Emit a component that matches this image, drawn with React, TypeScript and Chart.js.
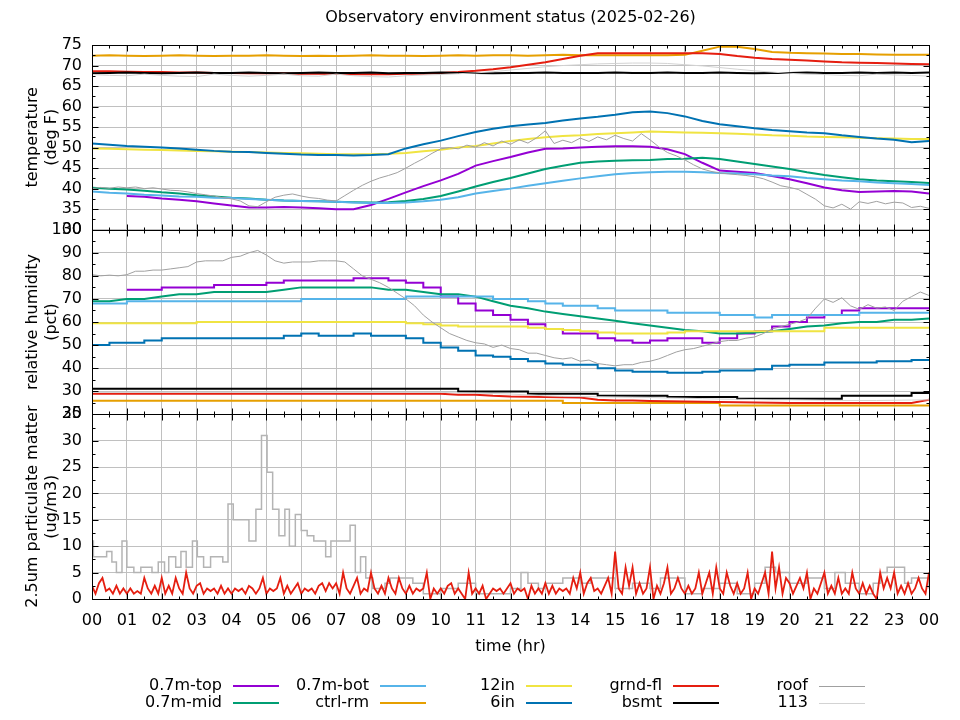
import React, { useEffect, useRef } from "react";
import { Chart, registerables } from "chart.js";

Chart.register(...registerables);

const FONT = "'DejaVu Sans', 'Liberation Sans', sans-serif";
const TITLE = "Observatory environment status (2025-02-26)";

// ---------- time grids (hours) ----------
const HALF_HOURS = [
  0, 0.5, 1, 1.5, 2, 2.5, 3, 3.5, 4, 4.5, 5, 5.5, 6, 6.5, 7, 7.5, 8, 8.5, 9, 9.5,
  10, 10.5, 11, 11.5, 12, 12.5, 13, 13.5, 14, 14.5, 15, 15.5, 16, 16.5, 17, 17.5,
  18, 18.5, 19, 19.5, 20, 20.5, 21, 21.5, 22, 22.5, 23, 23.5, 24,
];

const QUARTER_HOURS = [
  0, 0.25, 0.5, 0.75, 1, 1.25, 1.5, 1.75, 2, 2.25, 2.5, 2.75, 3, 3.25, 3.5, 3.75,
  4, 4.25, 4.5, 4.75, 5, 5.25, 5.5, 5.75, 6, 6.25, 6.5, 6.75, 7, 7.25, 7.5, 7.75,
  8, 8.25, 8.5, 8.75, 9, 9.25, 9.5, 9.75, 10, 10.25, 10.5, 10.75, 11, 11.25, 11.5, 11.75,
  12, 12.25, 12.5, 12.75, 13, 13.25, 13.5, 13.75, 14, 14.25, 14.5, 14.75, 15, 15.25, 15.5, 15.75,
  16, 16.25, 16.5, 16.75, 17, 17.25, 17.5, 17.75, 18, 18.25, 18.5, 18.75, 19, 19.25, 19.5, 19.75,
  20, 20.25, 20.5, 20.75, 21, 21.25, 21.5, 21.75, 22, 22.25, 22.5, 22.75, 23, 23.25, 23.5, 23.75,
  24,
];

const TENTH_HOURS = [
  0, 0.1, 0.2, 0.3, 0.4, 0.5, 0.6, 0.7, 0.8, 0.9,
  1, 1.1, 1.2, 1.3, 1.4, 1.5, 1.6, 1.7, 1.8, 1.9,
  2, 2.1, 2.2, 2.3, 2.4, 2.5, 2.6, 2.7, 2.8, 2.9,
  3, 3.1, 3.2, 3.3, 3.4, 3.5, 3.6, 3.7, 3.8, 3.9,
  4, 4.1, 4.2, 4.3, 4.4, 4.5, 4.6, 4.7, 4.8, 4.9,
  5, 5.1, 5.2, 5.3, 5.4, 5.5, 5.6, 5.7, 5.8, 5.9,
  6, 6.1, 6.2, 6.3, 6.4, 6.5, 6.6, 6.7, 6.8, 6.9,
  7, 7.1, 7.2, 7.3, 7.4, 7.5, 7.6, 7.7, 7.8, 7.9,
  8, 8.1, 8.2, 8.3, 8.4, 8.5, 8.6, 8.7, 8.8, 8.9,
  9, 9.1, 9.2, 9.3, 9.4, 9.5, 9.6, 9.7, 9.8, 9.9,
  10, 10.1, 10.2, 10.3, 10.4, 10.5, 10.6, 10.7, 10.8, 10.9,
  11, 11.1, 11.2, 11.3, 11.4, 11.5, 11.6, 11.7, 11.8, 11.9,
  12, 12.1, 12.2, 12.3, 12.4, 12.5, 12.6, 12.7, 12.8, 12.9,
  13, 13.1, 13.2, 13.3, 13.4, 13.5, 13.6, 13.7, 13.8, 13.9,
  14, 14.1, 14.2, 14.3, 14.4, 14.5, 14.6, 14.7, 14.8, 14.9,
  15, 15.1, 15.2, 15.3, 15.4, 15.5, 15.6, 15.7, 15.8, 15.9,
  16, 16.1, 16.2, 16.3, 16.4, 16.5, 16.6, 16.7, 16.8, 16.9,
  17, 17.1, 17.2, 17.3, 17.4, 17.5, 17.6, 17.7, 17.8, 17.9,
  18, 18.1, 18.2, 18.3, 18.4, 18.5, 18.6, 18.7, 18.8, 18.9,
  19, 19.1, 19.2, 19.3, 19.4, 19.5, 19.6, 19.7, 19.8, 19.9,
  20, 20.1, 20.2, 20.3, 20.4, 20.5, 20.6, 20.7, 20.8, 20.9,
  21, 21.1, 21.2, 21.3, 21.4, 21.5, 21.6, 21.7, 21.8, 21.9,
  22, 22.1, 22.2, 22.3, 22.4, 22.5, 22.6, 22.7, 22.8, 22.9,
  23, 23.1, 23.2, 23.3, 23.4, 23.5, 23.6, 23.7, 23.8, 23.9,
  24,
];

// ---------- temperature (deg F), half-hour samples ----------
const TEMP_TOP = [
  null, null, 38.2, 38.0, 37.6, 37.3, 36.9, 36.4, 35.9, 35.4,
  35.4, 35.5, 35.4, 35.2, 35.0, 35.0, 36.0, 37.5, 39.1, 40.6,
  42.0, 43.6, 45.6, 46.7, 47.7, 48.8, 49.7, 49.8, 50.0, 50.2,
  50.3, 50.3, 50.2, 49.6, 48.4, 46.3, 44.4, 44.1, 43.8, 43.1,
  42.3, 41.3, 40.3, 39.6, 39.2, 39.3, 39.4, 39.3, 38.8,
];
const TEMP_MID = [
  40.2, 40.0, 39.8, 39.5, 39.1, 38.8, 38.4, 38.1, 37.8, 37.6,
  37.3, 37.1, 37.0, 36.9, 36.8, 36.7, 36.6, 36.7, 37.0, 37.5,
  38.2, 39.3, 40.5, 41.6, 42.6, 43.7, 44.8, 45.6, 46.3, 46.6,
  46.8, 46.9, 47.0, 47.2, 47.3, 47.5, 47.2, 46.6, 46.0, 45.4,
  44.8, 44.0, 43.3, 42.8, 42.3, 42.0, 41.8, 41.6, 41.4,
];
const TEMP_BOT = [
  39.3, 39.0, 38.8, 38.5, 38.3, 38.1, 38.0, 37.8, 37.7, 37.5,
  37.3, 37.1, 37.0, 36.9, 36.8, 36.6, 36.5, 36.5, 36.6, 36.9,
  37.3, 37.9, 38.8, 39.4, 40.0, 40.7, 41.3, 41.9, 42.5, 43.0,
  43.5, 43.8, 44.0, 44.1, 44.1, 44.0, 43.8, 43.7, 43.5, 43.2,
  43.0, 42.6, 42.3, 42.0, 41.8, 41.5, 41.3, 41.1, 40.9,
];
const TEMP_CTRL = [
  72.4, 72.5, 72.4, 72.3, 72.4, 72.5, 72.4, 72.3, 72.4, 72.4,
  72.5, 72.4, 72.3, 72.4, 72.3, 72.4, 72.5, 72.4, 72.4, 72.3,
  72.4, 72.5, 72.4, 72.5, 72.5, 72.4, 72.5, 72.6, 72.5, 72.5,
  72.5, 72.5, 72.5, 72.5, 72.6, 73.6, 74.6, 74.6, 74.0, 73.3,
  73.1, 73.0, 72.9, 72.8, 72.8, 72.7, 72.6, 72.6, 72.6,
];
const TEMP_12IN = [
  49.8, 49.7, 49.6, 49.5, 49.4, 49.3, 49.2, 49.1, 49.0, 48.9,
  48.8, 48.7, 48.6, 48.5, 48.4, 48.4, 48.4, 48.5, 48.7, 49.1,
  49.5, 50.0, 50.4, 51.0, 51.6, 52.1, 52.5, 52.8, 53.0, 53.3,
  53.5, 53.7, 53.9, 53.8, 53.7, 53.6, 53.5, 53.4, 53.2, 53.0,
  52.9, 52.7, 52.6, 52.5, 52.4, 52.3, 52.2, 52.1, 52.1,
];
const TEMP_6IN = [
  51.0, 50.7, 50.4, 50.2, 50.0, 49.8, 49.5, 49.2, 49.0, 48.9,
  48.7, 48.5, 48.3, 48.2, 48.2, 48.1, 48.2, 48.4, 49.8, 50.8,
  51.7, 52.8, 53.8, 54.6, 55.2, 55.6, 56.0, 56.6, 57.1, 57.5,
  58.0, 58.6, 58.8, 58.4, 57.6, 56.5, 55.7, 55.2, 54.7, 54.3,
  54.0, 53.7, 53.5, 53.0, 52.6, 52.2, 51.9, 51.3, 51.6,
];
const TEMP_GRND = [
  68.6, 68.6, 68.5, 68.4, 68.4, 68.3, 68.3, 68.2, 68.2, 68.1,
  68.1, 68.1, 68.0, 68.0, 68.0, 67.9, 67.9, 67.9, 68.0, 68.0,
  68.2, 68.4, 68.7, 69.1, 69.6, 70.2, 70.8, 71.6, 72.4, 73.0,
  73.0, 73.0, 73.0, 73.0, 73.0, 73.0, 72.8, 72.3, 71.9, 71.6,
  71.4, 71.2, 71.0, 70.8, 70.7, 70.6, 70.5, 70.4, 70.3,
];
const TEMP_BSMT = [
  68.1, 68.2, 68.3, 68.2, 68.1, 68.2, 68.3, 68.2, 68.2, 68.3,
  68.2, 68.1, 68.2, 68.3, 68.2, 68.2, 68.3, 68.1, 68.2, 68.2,
  68.3, 68.2, 68.2, 68.1, 68.2, 68.2, 68.3, 68.2, 68.2, 68.2,
  68.3, 68.2, 68.2, 68.3, 68.2, 68.2, 68.3, 68.2, 68.1, 68.2,
  68.2, 68.3, 68.2, 68.2, 68.3, 68.2, 68.3, 68.2, 68.3,
];
const TEMP_113 = [
  67.8, 67.6, 67.5, 67.9, 67.6, 67.4, 67.3, 67.9, 67.6, 67.4,
  67.6, 67.9, 67.5, 67.4, 67.9, 67.5, 67.3, 67.2, 67.5, 67.7,
  67.8, 68.0, 68.2, 68.5, 68.9, 69.3, 69.7, 70.0, 70.2, 70.4,
  70.5, 70.6, 70.6, 70.5, 70.2, 69.9, 69.5, 69.1, 68.7, 68.4,
  68.1, 67.9, 67.8, 67.6, 67.5, 67.9, 67.7, 67.6, 67.4,
];
// roof temperature, quarter-hour samples
const TEMP_ROOF = [
  40.0, 40.3, 40.1, 40.4, 40.2, 40.4, 40.0, 40.2, 39.9, 39.6,
  39.5, 39.2, 38.8, 38.5, 38.2, 37.8, 37.5, 37.0, 35.8, 35.6,
  36.8, 37.9, 38.4, 38.7, 38.2, 37.8, 37.6, 37.2, 37.0, 38.3,
  39.6, 40.8, 41.8, 42.6, 43.2, 43.9, 45.0, 46.2, 47.3, 48.6,
  49.7, 50.0, 49.7, 50.6, 50.1, 51.2, 50.4, 51.6, 50.8, 51.9,
  51.1, 52.4, 54.1, 51.0, 51.8, 51.2, 52.3, 51.5, 52.6, 51.9,
  53.0, 52.2, 51.6, 53.4, 51.9, 50.2, 48.8, 48.0, 47.0, 45.8,
  44.8, 44.2, 43.8, 43.6, 43.4, 43.2, 42.9, 42.4, 41.6, 40.7,
  40.3, 39.8, 38.6, 37.4, 35.8, 35.3, 36.2, 35.0, 36.8, 36.4,
  36.9, 36.3, 36.7, 36.5, 35.4, 35.7, 35.2,
];

// ---------- relative humidity (pct), half-hour samples ----------
const RH_TOP = [
  null, null, 74, 74, 75, 75, 75, 76, 76, 76,
  77, 78, 78, 78, 78, 79, 79, 78, 77, 75,
  71, 68, 65, 63, 61, 59, 57, 55, 55, 53,
  52, 51, 52, 53, 53, 51, 53, 55, 56, 58,
  60, 62, 63, 65, 66, 66, 66, 66, 66,
];
const RH_MID = [
  69, 69, 70, 70, 71, 72, 72, 73, 73, 73,
  73, 74, 75, 75, 75, 75, 75, 74, 74, 73,
  72, 72, 71, 69, 67, 66, 64.5, 63.5, 62.5, 61.5,
  60.5, 59.5, 58.5, 57.5, 56.5, 56, 55, 55, 55.5, 56,
  57, 58, 58.5, 59.5, 60, 60, 61, 61, 61.5,
];
const RH_BOT = [
  68, 68, 69, 69, 69, 69, 69, 69, 69, 69,
  69, 69, 70, 70, 70, 70, 70, 70, 71, 71,
  71, 71, 71, 70, 70, 69, 68, 67, 67, 66,
  65, 65, 65, 64, 64, 64, 63, 63, 62, 63,
  63, 63, 63, 63, 64, 64, 64, 64, 64,
];
const RH_CTRL = [
  25.9, 25.9, 25.9, 25.9, 25.9, 25.9, 25.9, 25.9, 25.9, 25.9,
  25.9, 25.9, 25.9, 25.9, 25.9, 25.9, 25.9, 25.9, 25.9, 25.9,
  25.9, 25.9, 25.9, 25.9, 25.9, 25.9, 25.9, 24.9, 24.9, 24.9,
  24.9, 24.9, 24.9, 24.9, 24.9, 24.9, 23.8, 23.8, 23.8, 23.8,
  23.8, 23.8, 23.8, 23.8, 23.8, 23.8, 23.8, 23.8, 23.8,
];
const RH_12IN = [
  59.5, 59.5, 59.5, 59.5, 59.5, 59.5, 60, 60, 60, 60,
  60, 60, 60, 60, 60, 60, 60, 60, 59.5, 59,
  58.5, 58, 58, 58, 58, 57.5, 57, 56.5, 56, 55.5,
  55, 55, 55, 55.5, 56, 56, 56, 56, 56, 56,
  56, 56, 57.5, 57.5, 57.5, 57.5, 57.5, 57.5, 57.5,
];
const RH_6IN = [
  50, 51, 51, 52, 53, 53, 53, 53, 53, 53,
  53, 54, 55, 54, 54, 55, 54, 54, 53, 51,
  49, 47.5, 45.5, 45, 44, 43, 42, 41.5, 41.5, 40,
  39, 38.5, 38.5, 38, 38, 38.5, 39, 39, 39.5, 41,
  41.5, 41.5, 42.5, 42.5, 42.5, 43, 43, 43.5, 43.5,
];
const RH_GRND = [
  28.9, 28.9, 28.9, 28.9, 28.9, 28.9, 28.9, 28.9, 28.9, 28.9,
  28.9, 28.9, 28.9, 28.9, 28.9, 28.9, 28.9, 28.9, 28.9, 28.9,
  28.9, 28.5, 28.5, 28.0, 27.7, 27.6, 27.5, 27.4, 27.3, 26.3,
  26.0, 26.0, 25.8, 25.7, 25.6, 25.4, 25.3, 25.2, 25.1, 25.0,
  24.9, 24.9, 24.9, 24.9, 24.9, 24.9, 24.9, 24.9, 26.3,
];
const RH_BSMT = [
  31.1, 31.1, 31.1, 31.1, 31.1, 31.1, 31.1, 31.1, 31.1, 31.1,
  31.1, 31.1, 31.1, 31.1, 31.1, 31.1, 31.1, 31.1, 31.1, 31.1,
  31.1, 29.9, 29.9, 29.9, 29.9, 28.9, 28.9, 28.9, 28.9, 28.0,
  28.0, 28.0, 28.0, 27.5, 27.5, 27.5, 27.5, 26.7, 26.7, 26.7,
  26.7, 26.7, 26.7, 28.0, 28.0, 28.0, 28.0, 29.2, 29.2,
];
const RH_113 = [
  29.5, 29.5, 29.5, 29.5, 29.5, 29.5, 29.5, 29.5, 29.5, 29.5,
  29.5, 29.5, 29.5, 29.5, 29.5, 29.5, 29.5, 29.5, 29.5, 29.5,
  29.5, 29.3, 29.2, 29.0, 28.8, 28.4, 28.0, 27.8, 27.7, 27.6,
  27.5, 27.4, 27.3, 27.1, 27.0, 26.8, 26.6, 26.5, 26.4, 26.3,
  26.3, 26.2, 26.1, 26.0, 26.0, 26.0, 26.1, 26.2, 26.3,
];
// roof humidity, quarter-hour samples
const RH_ROOF = [
  80.5, 80, 80.3, 80, 80.5, 82, 82, 82.5, 82.5, 83,
  83.5, 84, 86, 86.5, 86.5, 86.5, 88, 88.5, 90, 91,
  89, 86.5, 85.5, 86, 86, 86, 86.5, 86.5, 86.5, 86,
  83, 80, 78.5, 77, 75, 72.5, 70, 67, 63, 60,
  57.5, 55, 53.5, 52, 51, 50.5, 49, 50, 48.5, 48,
  46.5, 46.5, 45.5, 44.5, 44, 44.5, 43, 43.5, 42, 41.5,
  41, 41.5, 41.5, 42.5, 43, 44, 45.5, 47, 48, 48.5,
  49.5, 50.5, 51.5, 52, 52, 53, 53.5, 55, 57, 58,
  59, 60, 61.5, 66, 70, 68.5, 70.5, 67, 65.5, 67.5,
  66, 66.5, 65, 69, 71, 73, 71.5,
];

// ---------- PM2.5 (ug/m3) ----------
const PM_GRND = [
  2.5, 1, 3, 4, 1.5, 2, 1, 2.5, 1, 2,
  1, 2, 1, 1.5, 1, 4, 2, 1, 2.5, 1,
  4, 1, 2.5, 1, 4, 2, 1, 5, 2, 1,
  2.5, 3, 1, 2, 1.5, 2, 1, 2.5, 1, 2,
  1, 2, 1.5, 2, 1, 2.5, 2, 1, 2, 4,
  1, 2, 1.5, 2, 4, 1, 2.5, 1, 2, 3,
  1, 2, 1.5, 2, 1, 2.5, 3, 1.5, 3, 2,
  3, 1, 5, 2, 1, 2.5, 4, 1, 2, 1.5,
  5, 2, 1, 2.5, 1, 4, 2, 1, 4, 2,
  1, 2.5, 1, 2, 1.5, 2, 5, 0, 2, 1,
  2, 1, 2.5, 3, 1, 2, 1, 0, 5, 1,
  2, 1, 2.5, 0, 1, 2, 1.5, 2, 1, 2,
  3, 1, 2, 1.5, 2, 0, 2.5, 1, 2, 1,
  3, 1, 2.5, 1, 2, 1.5, 2, 1, 4, 2,
  5, 1, 3, 4, 1.5, 2, 1, 2.5, 4, 1,
  9, 2, 1, 6, 2.5, 6, 1, 3, 1, 2,
  6, 0, 2.5, 1, 3, 6, 1, 2, 4, 2,
  1, 2.5, 1, 2, 5, 1, 3, 5, 1, 6,
  2, 1, 5, 2.5, 1, 3, 1, 2, 5, 0,
  2, 1, 3, 5, 1, 9, 2, 6, 1, 4,
  3, 1, 2.5, 4, 2, 5, 0, 2, 1, 3,
  5, 1, 2.5, 1, 4, 1, 2, 1, 5, 2,
  1, 3, 1, 2.5, 1, 0, 5, 2, 4, 2,
  5, 1, 2.5, 1, 3, 1, 2, 4, 2, 1,
  5,
];
// roof PM: times where the reading changes, and the held value
const PM_ROOF_X = [
  0, 0.04, 0.42, 0.57, 0.7, 0.86, 1.0, 1.2, 1.4, 1.72,
  1.9, 2.08, 2.2, 2.4, 2.55, 2.7, 2.88, 3.02, 3.2, 3.4,
  3.75, 3.9, 4.05, 4.5, 4.7, 4.86, 5.02, 5.18, 5.36, 5.53,
  5.66, 5.83, 6.0, 6.17, 6.36, 6.7, 6.85, 7.4, 7.55, 7.7,
  7.85, 8.05, 8.4, 8.55, 9.0, 9.2, 9.5, 10.0, 10.5, 11.0,
  11.5, 12.0, 12.3, 12.5, 12.8, 13.0, 13.5, 14.0, 14.3, 15.0,
  15.5, 16.0, 16.3, 17.0, 17.5, 18.0, 18.5, 19.0, 19.3, 19.6,
  20.0, 20.5, 21.0, 21.3, 21.6, 22.0, 22.4, 22.6, 22.8, 23.3,
  23.5, 24.0,
];
const PM_ROOF_Y = [
  11, 8, 9, 7, 5, 11, 6, 5, 6, 5,
  7, 5, 8, 6, 9, 6, 11, 8, 6, 8,
  7, 18, 15, 11, 17, 31, 24, 17, 12, 17,
  10, 16, 13, 12, 11, 8, 11, 14, 5, 8,
  4, 2, 3, 4, 4, 3, 1, 2, 3, 1,
  1, 2, 5, 3, 2, 3, 4, 3, 4, 2,
  3, 2, 4, 1, 2, 3, 1, 3, 6, 5,
  3, 4, 2, 5, 3, 1, 3, 5, 6, 3,
  4, 2,
];

// ---------- axis ticks ----------
const TEMP_RANGE = [30, 75, 5];
const RH_RANGE = [20, 100, 10];
const PM_RANGE = [0, 35, 5];
const HOUR_RANGE = [0, 24, 1];

// ---------- series ----------
const SERIES = [
  { label: "0.7m-top", color: "#9400D3", width: 2, temp: TEMP_TOP, rh: RH_TOP, rhStep: true },
  { label: "0.7m-mid", color: "#009E73", width: 2, temp: TEMP_MID, rh: RH_MID, rhStep: false },
  { label: "0.7m-bot", color: "#56B4E9", width: 2, temp: TEMP_BOT, rh: RH_BOT, rhStep: true },
  { label: "ctrl-rm", color: "#E69F00", width: 2, temp: TEMP_CTRL, rh: RH_CTRL, rhStep: true },
  { label: "12in", color: "#F0E442", width: 2, temp: TEMP_12IN, rh: RH_12IN, rhStep: true },
  { label: "6in", color: "#0072B2", width: 2, temp: TEMP_6IN, rh: RH_6IN, rhStep: true },
  { label: "grnd-fl", color: "#E51E10", width: 2, temp: TEMP_GRND, rh: RH_GRND, rhStep: false },
  { label: "bsmt", color: "#000000", width: 2, temp: TEMP_BSMT, rh: RH_BSMT, rhStep: true },
  { label: "roof", color: "#A0A0A0", width: 1, temp: TEMP_ROOF, rh: RH_ROOF, rhStep: false },
  { label: "113", color: "#D3D3D3", width: 1, temp: TEMP_113, rh: RH_113, rhStep: false },
];

const pairs = (xs: number[], ys: (number | null)[]) => xs.map((x, i) => ({ x, y: ys[i] }));

function buildDatasets() {
  const ds: any[] = [];
  const n = SERIES.length;
  SERIES.forEach((s, i) => {
    const tx = s.temp.length === QUARTER_HOURS.length ? QUARTER_HOURS : HALF_HOURS;
    const hx = s.rh.length === QUARTER_HOURS.length ? QUARTER_HOURS : HALF_HOURS;
    const base = {
      borderColor: s.color,
      backgroundColor: s.color,
      borderWidth: s.width,
      pointRadius: 0,
      fill: false,
      tension: 0,
      order: n - i,
    };
    ds.push({ ...base, label: s.label, yAxisID: "yT", data: pairs(tx, s.temp) });
    ds.push({ ...base, label: s.label, yAxisID: "yH", data: pairs(hx, s.rh), stepped: s.rhStep });
  });
  const grnd = SERIES[6];
  const roof = SERIES[8];
  ds.push({
    label: roof.label, yAxisID: "yP", data: pairs(PM_ROOF_X, PM_ROOF_Y), stepped: true,
    borderColor: "#B4B4B4", borderWidth: 1.5, pointRadius: 0, fill: false, order: 2,
  });
  ds.push({
    label: grnd.label, yAxisID: "yP", data: pairs(TENTH_HOURS, PM_GRND),
    borderColor: grnd.color, borderWidth: 1.8, pointRadius: 0, fill: false, order: 1,
  });
  return ds;
}

const GRID = "#C0C0C0";
const MAJOR = 6;
const MINOR = 3;

const framePlugin = {
  id: "gnuframe",
  afterDraw(chart: any) {
    const ctx = chart.ctx as CanvasRenderingContext2D;
    const { left, right } = chart.chartArea;
    const xs = chart.scales.x;
    const al = (v: number) => Math.round(v) + 0.5;
    const seg = (x1: number, y1: number, x2: number, y2: number) => {
      ctx.beginPath();
      ctx.moveTo(x1, y1);
      ctx.lineTo(x2, y2);
      ctx.stroke();
    };
    ctx.save();
    ctx.strokeStyle = "#000";
    ctx.lineWidth = 1;
    const L = al(left);
    const R = al(right);
    const xv = xs.ticks.map((t: any) => t.value);
    for (const id of ["yT", "yH", "yP"]) {
      const s = chart.scales[id];
      const T = al(s.top);
      const B = al(s.bottom);
      ctx.strokeRect(L, T, R - L, B - T);
      const yv = s.ticks.map((t: any) => t.value);
      yv.forEach((v: number, i: number) => {
        const y = al(s.getPixelForValue(v));
        seg(L, y, L + MAJOR, y);
        seg(R, y, R - MAJOR, y);
        if (i < yv.length - 1) {
          const ym = al(s.getPixelForValue((v + yv[i + 1]) / 2));
          seg(L, ym, L + MINOR, ym);
          seg(R, ym, R - MINOR, ym);
        }
      });
      xv.forEach((v: number, i: number) => {
        const x = al(xs.getPixelForValue(v));
        seg(x, T, x, T + MAJOR);
        seg(x, B, x, B - MAJOR);
        if (i < xv.length - 1) {
          const xm = al(xs.getPixelForValue((v + xv[i + 1]) / 2));
          seg(xm, T, xm, T + MINOR);
          seg(xm, B, xm, B - MINOR);
        }
      });
    }
    // title
    ctx.fillStyle = "#000";
    ctx.font = `16px ${FONT}`;
    ctx.textAlign = "center";
    ctx.textBaseline = "middle";
    ctx.fillText(TITLE, (left + right) / 2, 18);
    // legend: 5 columns x 2 rows, label right-aligned then line sample
    const colRight = [222, 369, 515, 662, 808];
    const rowY = [686, 703];
    ctx.textAlign = "right";
    SERIES.forEach((s, i) => {
      const c = Math.floor(i / 2);
      const r = i % 2;
      const xr = colRight[c];
      const y = rowY[r];
      ctx.fillStyle = "#000";
      ctx.fillText(s.label, xr, y);
      ctx.strokeStyle = s.color;
      ctx.lineWidth = s.width;
      const ly = s.width % 2 === 1 ? Math.round(y) + 0.5 : Math.round(y);
      seg(xr + 11, ly, xr + 57, ly);
    });
    ctx.restore();
  },
};

function yAxis(range: number[], weight: number, title: string[]) {
  return {
    type: "linear",
    position: "left",
    stack: "panels",
    stackWeight: 1,
    weight,
    min: range[0],
    max: range[1],
    afterFit: (s: any) => {
      s.width = 92;
    },
    ticks: {
      stepSize: range[2],
      autoSkip: false,
      padding: 10,
      color: "#000",
      font: { family: FONT, size: 16 },
    },
    grid: { color: GRID, lineWidth: 1, drawTicks: false },
    border: { display: false },
    title: {
      display: true,
      text: title,
      color: "#000",
      font: { family: FONT, size: 16, lineHeight: 1.2 },
      padding: { top: 23, bottom: 0 },
    },
  };
}

export default function App() {
  const ref = useRef<HTMLCanvasElement>(null);
  useEffect(() => {
    if (!ref.current) return;
    Chart.defaults.font.family = FONT;
    Chart.defaults.color = "#000";
    const chart = new Chart(ref.current, {
      type: "line",
      data: { datasets: buildDatasets() },
      options: {
        animation: false,
        responsive: false,
        devicePixelRatio: 1,
        events: [],
        layout: { padding: { left: 0, right: 31, top: 45, bottom: 60 } },
        plugins: {
          legend: { display: false },
          title: { display: false },
          tooltip: { enabled: false },
        },
        scales: {
          x: {
            type: "linear",
            position: "bottom",
            min: HOUR_RANGE[0],
            max: HOUR_RANGE[1],
            afterFit: (s: any) => {
              s.height = 61;
            },
            ticks: {
              stepSize: HOUR_RANGE[2],
              autoSkip: false,
              maxRotation: 0,
              padding: 12,
              color: "#000",
              font: { family: FONT, size: 16 },
              callback: (v: any) => String(Number(v) % 24).padStart(2, "0"),
            },
            grid: { color: GRID, lineWidth: 1, drawTicks: false },
            border: { display: false },
            title: {
              display: true,
              text: "time (hr)",
              color: "#000",
              font: { family: FONT, size: 16, lineHeight: 1.2 },
              padding: { top: 0, bottom: 4 },
            },
          },
          yT: yAxis(TEMP_RANGE, 2, ["temperature", "(deg F)"]),
          yH: yAxis(RH_RANGE, 1, ["relative humidity", "(pct)"]),
          yP: yAxis(PM_RANGE, 0, ["2.5um particulate matter", "(ug/m3)"]),
        },
      } as any,
      plugins: [framePlugin],
    });
    return () => chart.destroy();
  }, []);
  return (
    <div style={{ position: "absolute", left: 0, top: 0, width: 960, height: 720, background: "#fff" }}>
      <canvas ref={ref} width={960} height={720} style={{ display: "block" }} />
    </div>
  );
}
